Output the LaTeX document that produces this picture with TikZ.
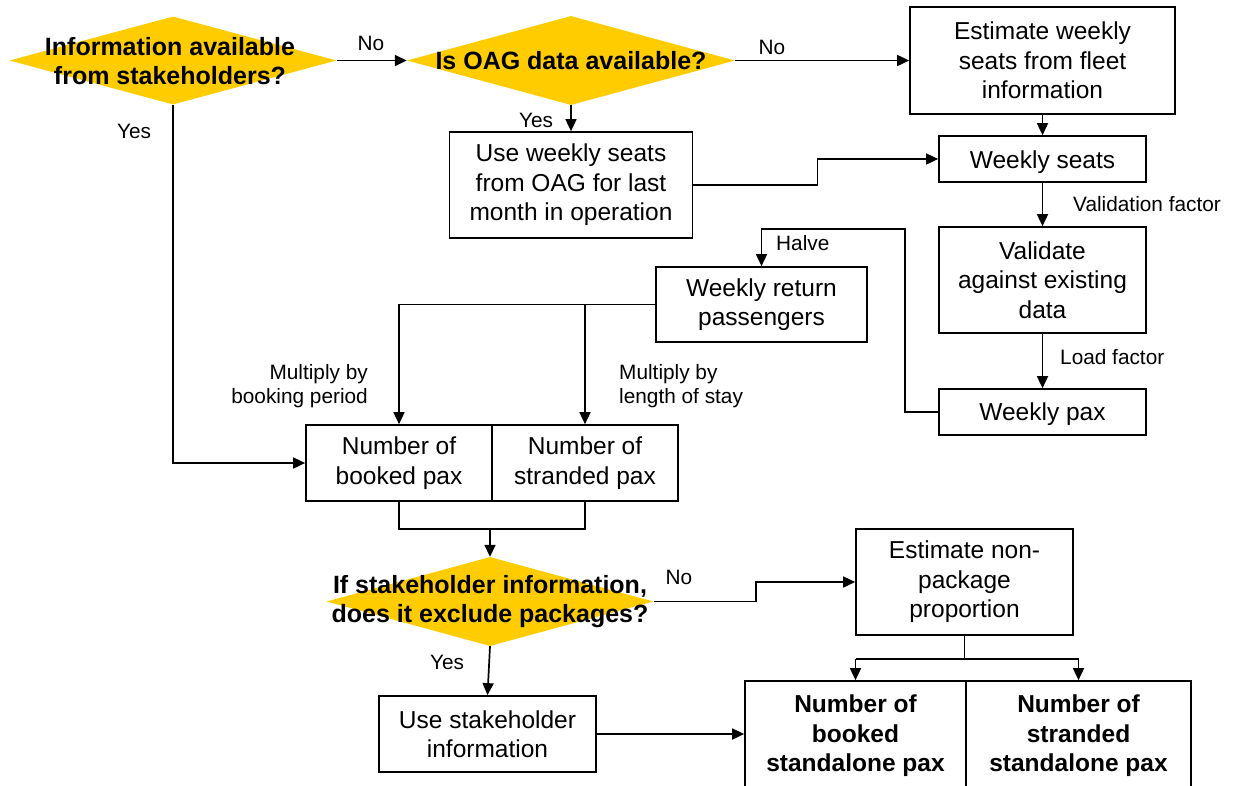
\documentclass[tikz,border=0pt]{standalone}
\usepackage{fontspec}
\setmainfont{Liberation Sans}
\usetikzlibrary{arrows.meta,shapes.geometric,calc}
\definecolor{dyellow}{RGB}{255,204,0}
\newcommand{\bodyfont}{\fontsize{24.5}{29.5}\selectfont}
\newcommand{\lblfont}{\fontsize{20.8}{24.5}\selectfont}
\newcommand{\qfont}{\fontsize{25}{29}\selectfont\bfseries}
\begin{document}
\begin{tikzpicture}[x=1pt,y=-1pt,
  box/.style={draw, line width=1.7pt, fill=white, align=center, inner sep=0pt, font=\bodyfont},
  bbox/.style={box, font=\bodyfont\bfseries},
  dia/.style={diamond, fill=dyellow, draw=none, inner sep=0pt},
  qtext/.style={align=center, inner sep=0pt, font=\qfont},
  lbl/.style={inner sep=0pt, font=\lblfont},
  conn/.style={line width=1.7pt},
  arr/.style={conn, -{Triangle[length=12pt,width=11pt]}}
]
\clip (0,0) rectangle (1236,785);
\fill[white] (0,0) rectangle (1236,785);

% decisions
\node[dia, minimum width=327pt, minimum height=88pt] (d1) at (173,60.5) {};
\node[qtext] (t1) at (170,61) {Information available\\from stakeholders?};
\node[dia, minimum width=328pt, minimum height=89pt] (d2) at (571,60.5) {};
\node[qtext] (t2) at (571,61) {Is OAG data available?};
\node[dia, minimum width=327pt, minimum height=89pt] (d3) at (490,601.5) {};
\node[qtext] (t3) at (490,602) {If stakeholder information,\\does it exclude packages?};

% boxes
\node[box, minimum width=265pt, minimum height=107pt] (e1) at (1042.5,60.5) {Estimate weekly\\seats from fleet\\information};
\node[box, minimum width=243pt, minimum height=106pt] (u1) at (571,185) {Use weekly seats\\from OAG for last\\month in operation};
\node[box, minimum width=207pt, minimum height=46pt] (ws) at (1042.5,159) {\raisebox{-3pt}[\height][\depth]{Weekly seats}};
\node[box, minimum width=207pt, minimum height=106pt] (va) at (1042.5,280) {Validate\\against existing\\data};
\node[box, minimum width=207pt, minimum height=46pt] (wp) at (1042.5,412) {\raisebox{-2pt}[\height][\depth]{Weekly pax}};
\node[box, minimum width=211pt, minimum height=75pt] (wr) at (761.5,304.5) {Weekly return\\passengers};
\node[box, minimum width=186pt, minimum height=76pt] (nb) at (399,463) {Number of\\booked pax};
\node[box, minimum width=186pt, minimum height=76pt] (ns) at (585,463) {Number of\\stranded pax};
\node[box, minimum width=217pt, minimum height=106pt] (en) at (964.5,582) {Estimate non-\\package\\proportion};
\node[box, minimum width=217pt, minimum height=76pt] (us) at (487.5,734) {Use stakeholder\\information};
\node[bbox, minimum width=221pt, minimum height=110pt] (bb) at (855.5,736) {Number of\\booked\\standalone pax};
\node[bbox, minimum width=225pt, minimum height=110pt] (bs) at (1078.5,736) {Number of\\stranded\\standalone pax};

% connectors
\draw[arr] (d1.east) -- (d2.west);
\node[lbl] (no1) at (371,43) {No};
\draw[arr] (d2.east) -- (e1.west);
\node[lbl] (no2) at (772,47) {No};
\draw[arr] (d2.south) -- (u1.north);
\node[lbl] (yes2) at (536,120) {Yes};
\draw[arr] (e1.south) -- (ws.north);
\draw[arr] (u1.east) -- ++(124,0) |- (ws.west);
\draw[arr] (ws.south) -- (va.north);
\node[lbl, anchor=west] (vf) at (1073,204) {Validation factor};
\draw[arr] (va.south) -- (wp.north);
\node[lbl, anchor=west] (lf) at (1060,357) {Load factor};
\coordinate (hv) at (905,229);
\draw[arr] (wp.west) -| (hv) -| (wr.north);
\node[lbl, anchor=west] (halve) at (776,243) {Halve};
\draw[arr] (wr.west) -| (nb.north);
\draw[arr] (wr.west -| ns.north) -- (ns.north);
\node[lbl, anchor=east, align=right] (mb) at (368,386) {Multiply by\\booking period};
\node[lbl, anchor=west, align=left] (ml) at (619,386) {Multiply by\\length of stay};
\draw[arr] (d1.south) |- (nb.west);
\node[lbl] (yes1) at (134,131) {Yes};
\coordinate (br) at ($(nb.south)+(0,27)$);
\draw[conn] (nb.south) -- (br) -| (ns.south);
\draw[arr] (br -| d3.north) -- (d3.north);
\draw[arr] (d3.east) -- ++(102,0) |- (en.west);
\node[lbl] (no3) at (679,577) {No};
\draw[arr] (d3.south) -- (us.north);
\node[lbl] (yes3) at (447,662) {Yes};
\coordinate (sp) at ($(en.south)+(0,23)$);
\draw[conn] (en.south) -- (sp);
\draw[conn] (sp -| bb.north) -- (sp -| bs.north);
\draw[arr] (sp -| bb.north) -- (bb.north);
\draw[arr] (sp -| bs.north) -- (bs.north);
\draw[arr] (us.east) -- (us.east -| bb.west);
\end{tikzpicture}
\end{document}
